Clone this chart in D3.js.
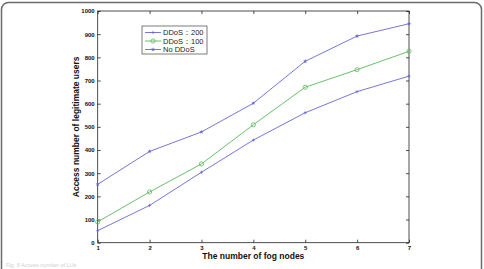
<!DOCTYPE html>
<html>
<head>
<meta charset="utf-8">
<script src="https://cdn.jsdelivr.net/npm/d3@7"></script>
<style>
  body { margin: 0; background: #fff; }
  svg { display: block; font-family: "Liberation Sans", Arial, sans-serif; }
</style>
</head>
<body>
<svg id="chart" width="484" height="269"></svg>
<script>
// data
const nodes = [1, 2, 3, 4, 5, 6, 7];
const xTicks = [1, 2, 3, 4, 5, 6, 7];
const yTicks = [0, 100, 200, 300, 400, 500, 600, 700, 800, 900, 1000];
const noDdos = [252, 394, 478, 602, 783, 892, 945];
const ddos100 = [90, 219, 340, 509, 671, 747, 826];
const ddos200 = [52, 161, 304, 443, 561, 652, 719];

const series = [
  { name: 'DDoS\uFF1A200', values: ddos200, color: '#6666d6', marker: 'plus' },
  { name: 'DDoS\uFF1A100', values: ddos100, color: '#5cb85c', marker: 'circle' },
  { name: 'No DDoS', values: noDdos, color: '#6666d6', marker: 'star' }
];

const svg = d3.select('#chart');
const W = 484, H = 269;
const pLeft = 97.7, pRight = 409, pTop = 11, pBottom = 242.7;

// outer rounded frame
svg.append('rect')
  .attr('x', 1.5).attr('y', 2.5)
  .attr('width', W - 4).attr('height', H + 10)
  .attr('rx', 7)
  .attr('fill', 'none')
  .attr('stroke', '#6a6a6a')
  .attr('stroke-width', 1.5);

const x = d3.scaleLinear().domain([1, 7]).range([pLeft, pRight]);
const y = d3.scaleLinear().domain([0, 1000]).range([pBottom, pTop]);

// plot box
svg.append('rect')
  .attr('x', pLeft).attr('y', pTop)
  .attr('width', pRight - pLeft).attr('height', pBottom - pTop)
  .attr('fill', 'none').attr('stroke', '#222').attr('stroke-width', 0.8);

// axes with inward ticks (matlab style)
const tickStyle = g => {
  g.select('.domain').remove();
  g.selectAll('.tick line').attr('stroke', '#222').attr('stroke-width', 0.8);
  g.selectAll('.tick text')
    .attr('font-size', 6).attr('font-weight', 'bold').attr('fill', '#111');
};

svg.append('g')
  .attr('transform', `translate(0,${pBottom})`)
  .call(d3.axisBottom(x).tickValues(xTicks).tickFormat(d3.format('d')).tickSizeInner(-3).tickPadding(3))
  .call(tickStyle);
svg.append('g')
  .attr('transform', `translate(0,${pTop})`)
  .call(d3.axisTop(x).tickValues(xTicks).tickFormat('').tickSizeInner(-3))
  .call(tickStyle);
svg.append('g')
  .attr('transform', `translate(${pLeft},0)`)
  .call(d3.axisLeft(y).tickValues(yTicks).tickFormat(d3.format('d')).tickSizeInner(-3).tickPadding(3))
  .call(tickStyle);
svg.append('g')
  .attr('transform', `translate(${pRight},0)`)
  .call(d3.axisRight(y).tickValues(yTicks).tickFormat('').tickSizeInner(-3))
  .call(tickStyle);

// axis titles
svg.append('text')
  .attr('x', (pLeft + pRight) / 2).attr('y', 259)
  .attr('text-anchor', 'middle')
  .attr('font-size', 8.5).attr('font-weight', 'bold').attr('fill', '#111')
  .text('The number of fog nodes');
svg.append('text')
  .attr('transform', `translate(79,${(pTop + pBottom) / 2}) rotate(-90)`)
  .attr('text-anchor', 'middle')
  .attr('font-size', 8.5).attr('font-weight', 'bold').attr('fill', '#111')
  .text('Access number of legitimate users');

function drawMarker(g, kind, cx, cy, color) {
  if (kind === 'circle') {
    g.append('circle').attr('cx', cx).attr('cy', cy).attr('r', 2.1)
      .attr('fill', 'none').attr('stroke', color).attr('stroke-width', 0.8);
  } else if (kind === 'plus') {
    g.append('path')
      .attr('d', `M${cx - 1.5},${cy}H${cx + 1.5}M${cx},${cy - 1.5}V${cy + 1.5}`)
      .attr('stroke', color).attr('stroke-width', 0.8);
  } else {
    g.append('path')
      .attr('d', d3.symbol(d3.symbolStar, 6)())
      .attr('transform', `translate(${cx},${cy})`)
      .attr('fill', color);
  }
}

const line = d3.line().x((d, i) => x(nodes[i])).y(d => y(d));

series.forEach(s => {
  const g = svg.append('g');
  g.append('path')
    .datum(s.values)
    .attr('d', line)
    .attr('fill', 'none')
    .attr('stroke', s.color)
    .attr('stroke-width', 0.9);
  s.values.forEach((v, i) => drawMarker(g, s.marker, x(nodes[i]), y(v), s.color));
});

// legend
const lg = svg.append('g').attr('transform', 'translate(142,26)');
lg.append('rect')
  .attr('width', 65).attr('height', 28)
  .attr('fill', '#fff').attr('stroke', '#444').attr('stroke-width', 0.7);
series.forEach((s, i) => {
  const ly = 6.5 + i * 8.5;
  lg.append('line')
    .attr('x1', 3).attr('x2', 19).attr('y1', ly).attr('y2', ly)
    .attr('stroke', s.color).attr('stroke-width', 0.9);
  drawMarker(lg, s.marker, 11, ly, s.color);
  lg.append('text')
    .attr('x', 21).attr('y', ly + 2.6)
    .attr('font-size', 7.5).attr('fill', '#222')
    .text(s.name);
});

// faint caption at the bottom edge
svg.append('text')
  .attr('x', 6).attr('y', 267)
  .attr('font-size', 5.5).attr('fill', '#d0d0d0')
  .text('Fig. 8 Access number of LUs');
</script>
</body>
</html>
